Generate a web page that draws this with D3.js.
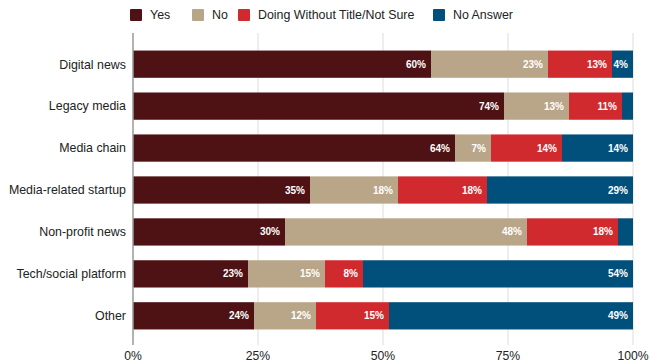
<!DOCTYPE html>
<html>
<head>
<meta charset="utf-8">
<script src="https://cdn.jsdelivr.net/npm/d3@7"></script>
<style>
body{margin:0;background:#fff;}
text{font-family:"Liberation Sans",Arial,sans-serif;}
</style>
</head>
<body>
<div id="chart"></div>
<script>
var categories=["Digital news","Legacy media","Media chain","Media-related startup","Non-profit news","Tech/social platform","Other"];
var seriesNames=["Yes","No","Doing Without Title/Not Sure","No Answer"];
var yesVals=[59.6,74.2,64.4,35.4,30.4,23.0,24.2];
var noVals=[23.4,13.0,7.2,17.6,48.4,15.4,12.4];
var notSureVals=[12.8,10.6,14.2,17.8,18.2,7.6,14.6];
var noAnswerVals=[4.2,2.2,14.2,29.2,3.0,54.0,48.8];
var tickVals=[0,25,50,75,100];
var colors=["#4e1214","#b9a587","#d02a2f","#00507b"];

var width=650, height=363;
var margin={top:43,right:17,bottom:26,left:133};

var svg=d3.select("#chart").append("svg")
  .attr("width",width).attr("height",height);

var x=d3.scaleLinear().domain([0,100]).range([margin.left,width-margin.right]);
var y=d3.scaleBand().domain(categories).range([margin.top,height-margin.bottom]).paddingInner(0.35).paddingOuter(0.18);

// grid
svg.append("g").selectAll("line").data(tickVals.slice(1)).enter().append("line")
  .attr("x1",function(d){return x(d);}).attr("x2",function(d){return x(d);})
  .attr("y1",margin.top-10).attr("y2",height-margin.bottom+8)
  .style("stroke","#dcdcdc").style("stroke-width",1);

var series=[yesVals,noVals,notSureVals,noAnswerVals];
var rows=categories.map(function(c,i){
  var acc=0;
  return series.map(function(s,k){
    var seg={cat:c,k:k,x0:acc,x1:acc+s[i],v:s[i]};
    acc+=s[i];
    return seg;
  });
});

var g=svg.append("g");
rows.forEach(function(r){
  g.selectAll(null).data(r).enter().append("rect")
    .attr("x",function(d){return x(d.x0);})
    .attr("width",function(d){return x(d.x1)-x(d.x0);})
    .attr("y",y(r[0].cat))
    .attr("height",y.bandwidth())
    .style("fill",function(d){return colors[d.k];});
  g.selectAll(null).data(r.filter(function(d){return d.v>=4;})).enter().append("text")
    .attr("x",function(d){return x(d.x1)-5;})
    .attr("y",y(r[0].cat)+y.bandwidth()/2)
    .attr("dy","0.35em")
    .attr("text-anchor","end")
    .style("fill","#fff").style("font-size","10px").style("font-weight","bold")
    .text(function(d){return Math.round(d.v)+"%";});
});

// y axis line
svg.append("line")
  .attr("x1",x(0)).attr("x2",x(0))
  .attr("y1",margin.top-10).attr("y2",height-margin.bottom+8)
  .style("stroke","#999").style("stroke-width",1.5);

// category labels
svg.append("g").selectAll("text").data(categories).enter().append("text")
  .attr("x",margin.left-7)
  .attr("y",function(d){return y(d)+y.bandwidth()/2;})
  .attr("dy","0.35em").attr("text-anchor","end")
  .style("font-size","12.4px").style("fill","#222")
  .text(function(d){return d;});

// x tick labels
svg.append("g").selectAll("text").data(tickVals).enter().append("text")
  .attr("x",function(d){return x(d);})
  .attr("y",height-3)
  .attr("text-anchor","middle")
  .style("font-size","12.2px").style("fill","#222")
  .text(function(d){return d+"%";});

// legend
var legX=[130,192,238,433];
var leg=svg.append("g").selectAll("g").data(seriesNames).enter().append("g")
  .attr("transform",function(d,i){return "translate("+legX[i]+",9)";});
leg.append("rect").attr("width",12).attr("height",12).attr("rx",1)
  .style("fill",function(d,i){return colors[i];});
leg.append("text").attr("x",20).attr("y",6).attr("dy","0.35em")
  .style("font-size","12.4px").style("fill","#222")
  .text(function(d){return d;});
</script>
</body>
</html>
